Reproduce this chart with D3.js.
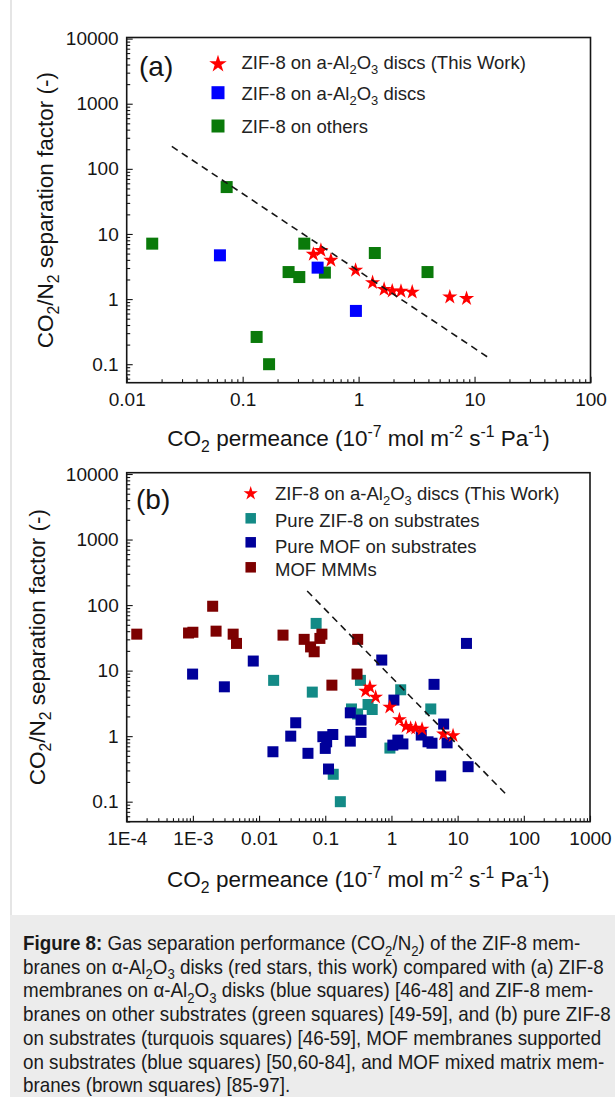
<!DOCTYPE html>
<html>
<head>
<meta charset="utf-8">
<script src="https://cdn.jsdelivr.net/npm/d3@7"></script>
<style>
  body { margin: 0; background: #fff; }
  svg { display: block; }
</style>
</head>
<body>
<svg id="fig" width="615" height="1097"></svg>
<script>
// ---------- data: CO2 permeance (1e-7 mol m-2 s-1 Pa-1) and CO2/N2 separation factor ----------
// ZIF-8 on α-Al2O3 discs, this work (red stars)
const thisWorkPerm = [0.407, 0.473, 0.577, 0.942, 1.32, 1.66, 1.95, 2.32, 2.9, 6.12, 8.53];
const thisWorkSel  = [4.87, 5.6, 3.94, 2.77, 1.79, 1.41, 1.33, 1.32, 1.28, 1.08, 1.02];

// ZIF-8 on α-Al2O3 discs, literature [46-48]
const aluminaPerm = [0.0637, 0.443, 0.948];
const aluminaSel  = [4.7, 3.04, 0.658];

// ZIF-8 on other substrates [49-59]
const otherPerm = [0.0166, 0.0728, 0.132, 0.169, 0.249, 0.308, 0.34, 0.512, 1.38, 3.93];
const otherSel  = [7.1, 52.5, 0.262, 0.1, 2.6, 2.18, 7.1, 2.55, 5.1, 2.6];

// Pure ZIF-8 on substrates [46-59] = both groups above
const pureZifPerm = aluminaPerm.concat(otherPerm);
const pureZifSel  = aluminaSel.concat(otherSel);

// Pure MOF membranes on substrates [50,60-84]
const mofPerm = [9.9e-4, 2.99e-3, 8.17e-3, 0.0162, 0.0301, 0.0358, 0.0548, 0.092, 0.1, 0.105,
                 0.112, 0.13, 0.239, 0.239, 0.347, 0.347, 0.714, 1.05, 1.09, 1.25,
                 1.49, 2.82, 3.57, 4.1, 4.4, 5.55, 6.15, 6.93, 13.6, 14.4];
const mofSel  = [8.85, 5.66, 14, 0.578, 1.0, 1.6, 0.547, 0.98, 0.65, 0.82,
                 0.315, 1.06, 0.84, 2.27, 1.76, 1.14, 14.5, 0.73, 3.55, 0.87,
                 0.76, 1.04, 0.82, 0.78, 6.17, 0.247, 1.53, 0.79, 26, 0.342];

// MOF mixed matrix membranes [85-97]
const mmmPerm = [1.42e-4, 8.6e-4, 1.0e-3, 1.99e-3, 2.24e-3, 4.06e-3, 4.56e-3, 0.023,
                 0.048, 0.06, 0.068, 0.083, 0.089, 0.126, 0.302, 0.309];
const mmmSel  = [36, 37.5, 38.5, 96, 40, 36, 26, 34.8,
                 30, 23, 19.4, 31, 36, 6.0, 8.85, 30];

// dashed trade-off lines
const trendAPerm = [0.0245, 13.3];
const trendASel  = [221, 0.125];
const trendBPerm = [0.0533, 58.5];
const trendBSel  = [164, 0.119];

// tick values and labels
const xTicksA = [0.01, 0.1, 1, 10, 100];
const xLabelsA = ["0.01", "0.1", "1", "10", "100"];
const xTicksB = [1e-4, 1e-3, 0.01, 0.1, 1, 10, 100, 1000];
const xLabelsB = ["1E-4", "1E-3", "0.01", "0.1", "1", "10", "100", "1000"];
const yTicks = [0.1, 1, 10, 100, 1000, 10000];
const yLabels = ["0.1", "1", "10", "100", "1000", "10000"];

// legend entries
const legendA = ["ZIF-8 on a-Al|2|O|3| discs (This Work)", "ZIF-8 on a-Al|2|O|3| discs", "ZIF-8 on others"];
const legendB = ["ZIF-8 on a-Al|2|O|3| discs (This Work)", "Pure ZIF-8 on substrates", "Pure MOF on substrates", "MOF MMMs"];

// ---------- styling ----------
const FONT = "'Liberation Sans', Arial, Helvetica, sans-serif";
const INK = "#151515";
const C = {
  red: "#ff0000", blue: "#0000ff", green: "#0a7a0a",
  teal: "#138a86", navy: "#00009a", maroon: "#7d0000"
};

const svg = d3.select("#fig");

// figure container edge and caption panel
svg.append("line").attr("x1", 11).attr("x2", 11).attr("y1", 0).attr("y2", 915)
  .attr("stroke", "#d4d4d4").attr("stroke-width", 1.2);
svg.append("rect").attr("x", 10).attr("y", 915).attr("width", 605).attr("height", 182)
  .attr("fill", "#ececec");

// rich text helper: parts are [text, "sub"|"sup"|null, bold]
function rich(textSel, parts, size) {
  let shift = 0;
  parts.forEach(([t, k, bold]) => {
    const target = k === "sub" ? size * 0.28 : k === "sup" ? -size * 0.4 : 0;
    const ts = textSel.append("tspan").text(t).attr("dy", target - shift);
    if (k) ts.attr("font-size", size * 0.7);
    if (bold) ts.attr("font-weight", "bold");
    shift = target;
  });
}
// "a|2|b" -> alternating normal/sub pieces
function subParts(str) {
  return str.split("|").filter(s => s.length).map((s, i) => [s, i % 2 ? "sub" : null]);
}

function minorTicks(domain) {
  const out = [];
  const lo = Math.floor(Math.log10(domain[0])), hi = Math.ceil(Math.log10(domain[1]));
  for (let e = lo; e < hi; e++) {
    for (let k = 2; k <= 9; k++) {
      const v = k * Math.pow(10, e);
      if (v >= domain[0] && v <= domain[1]) out.push(v);
    }
  }
  return out;
}

function star(size) { return d3.symbol().type(d3.symbolStar).size(size)(); }

function panel(cfg) {
  const x = d3.scaleLog().domain(cfg.xDomain).range([cfg.left, cfg.right]);
  const y = d3.scaleLog().domain(cfg.yDomain).range([cfg.bottom, cfg.top]);
  const g = svg.append("g");

  // axes: inward major + minor ticks
  const gx = g.append("g").attr("transform", `translate(0,${cfg.bottom})`)
    .call(d3.axisBottom(x).tickValues(cfg.xTicks).tickFormat((d, i) => cfg.xLabels[i])
      .tickSizeInner(-6).tickSizeOuter(0).tickPadding(10));
  const gxm = g.append("g").attr("transform", `translate(0,${cfg.bottom})`)
    .call(d3.axisBottom(x).tickValues(minorTicks(cfg.xDomain)).tickFormat("")
      .tickSizeInner(-3.5).tickSizeOuter(0));
  const gy = g.append("g").attr("transform", `translate(${cfg.left},0)`)
    .call(d3.axisLeft(y).tickValues(yTicks).tickFormat((d, i) => yLabels[i])
      .tickSizeInner(-6).tickSizeOuter(0).tickPadding(8));
  const gym = g.append("g").attr("transform", `translate(${cfg.left},0)`)
    .call(d3.axisLeft(y).tickValues(minorTicks(cfg.yDomain)).tickFormat("")
      .tickSizeInner(-3.5).tickSizeOuter(0));
  [gx, gxm, gy, gym].forEach(a => {
    a.select(".domain").remove();
    a.selectAll("line").attr("stroke", INK).attr("stroke-width", 1.1);
    a.selectAll("text").attr("font-family", FONT).attr("font-size", 19).attr("fill", INK);
  });

  // frame
  g.append("rect").attr("x", cfg.left).attr("y", cfg.top)
    .attr("width", cfg.right - cfg.left).attr("height", cfg.bottom - cfg.top)
    .attr("fill", "none").attr("stroke", INK).attr("stroke-width", 1.6);

  // series
  cfg.series.forEach(s => {
    const pts = s.perm.map((p, i) => [x(p), y(s.sel[i])]);
    if (s.shape === "star") {
      g.append("g").selectAll("path").data(pts).join("path")
        .attr("d", star(s.size)).attr("transform", d => `translate(${d[0]},${d[1]})`)
        .attr("fill", s.color);
    } else {
      g.append("g").selectAll("rect").data(pts).join("rect")
        .attr("x", d => d[0] - s.size / 2).attr("y", d => d[1] - s.size / 2)
        .attr("width", s.size).attr("height", s.size).attr("fill", s.color);
    }
  });

  // trade-off line
  const line = d3.line().x(d => x(d[0])).y(d => y(d[1]));
  g.append("path").datum(cfg.trendPerm.map((p, i) => [p, cfg.trendSel[i]]))
    .attr("d", line).attr("fill", "none").attr("stroke", INK)
    .attr("stroke-width", 1.6).attr("stroke-dasharray", "7,5");

  // panel tag
  g.append("text").attr("x", cfg.tag.x).attr("y", cfg.tag.y).text(cfg.tag.text)
    .attr("font-family", FONT).attr("font-size", 28).attr("fill", INK);

  // legend
  cfg.legend.items.forEach((label, i) => {
    const my = cfg.legend.markerY[i];
    const s = cfg.legend.symbols[i];
    if (s.shape === "star") {
      g.append("path").attr("d", star(s.size)).attr("fill", s.color)
        .attr("transform", `translate(${cfg.legend.markerX},${my})`);
    } else {
      g.append("rect").attr("x", cfg.legend.markerX - s.size / 2).attr("y", my - s.size / 2)
        .attr("width", s.size).attr("height", s.size).attr("fill", s.color);
    }
    const t = g.append("text").attr("x", cfg.legend.textX).attr("y", cfg.legend.textY[i])
      .attr("font-family", FONT).attr("font-size", 18.5).attr("fill", "#222");
    rich(t, subParts(label), 18.5);
  });

  // axis titles
  const xt = g.append("text").attr("x", (cfg.left + cfg.right) / 2).attr("y", cfg.xTitleY)
    .attr("text-anchor", "middle").attr("font-family", FONT).attr("font-size", 22.5).attr("fill", INK);
  rich(xt, [["CO"], ["2", "sub"], [" permeance (10"], ["-7", "sup"], [" mol m"], ["-2", "sup"],
            [" s"], ["-1", "sup"], [" Pa"], ["-1", "sup"], [")"]], 22.5);
  const yt = g.append("text")
    .attr("transform", `translate(${cfg.yTitleX},${(cfg.top + cfg.bottom) / 2}) rotate(-90)`)
    .attr("text-anchor", "middle").attr("font-family", FONT).attr("font-size", 22.5).attr("fill", INK);
  rich(yt, [["CO"], ["2", "sub"], ["/N"], ["2", "sub"], [" separation factor (-)"]], 22.5);
}

// panel (a)
panel({
  left: 126.7, right: 590.5, top: 37.5, bottom: 382.7,
  xDomain: [0.01, 100], yDomain: [0.052, 10400],
  xTicks: xTicksA, xLabels: xLabelsA,
  xTitleY: 446, yTitleX: 53,
  tag: { text: "(a)", x: 139, y: 76 },
  trendPerm: trendAPerm, trendSel: trendASel,
  series: [
    { perm: otherPerm, sel: otherSel, color: C.green, shape: "square", size: 12 },
    { perm: aluminaPerm, sel: aluminaSel, color: C.blue, shape: "square", size: 12 },
    { perm: thisWorkPerm, sel: thisWorkSel, color: C.red, shape: "star", size: 72 }
  ],
  legend: {
    items: legendA, markerX: 218, textX: 241.5,
    markerY: [64, 92.7, 126], textY: [68.5, 100, 133],
    symbols: [{ shape: "star", color: C.red, size: 95 },
              { shape: "square", color: C.blue, size: 13 },
              { shape: "square", color: C.green, size: 13 }]
  }
});

// panel (b)
panel({
  left: 126.7, right: 590, top: 472.7, bottom: 821.7,
  xDomain: [1e-4, 1000], yDomain: [0.0495, 10470],
  xTicks: xTicksB, xLabels: xLabelsB,
  xTitleY: 887, yTitleX: 45,
  tag: { text: "(b)", x: 136, y: 509 },
  trendPerm: trendBPerm, trendSel: trendBSel,
  series: [
    { perm: pureZifPerm, sel: pureZifSel, color: C.teal, shape: "square", size: 11 },
    { perm: mofPerm, sel: mofSel, color: C.navy, shape: "square", size: 11 },
    { perm: mmmPerm, sel: mmmSel, color: C.maroon, shape: "square", size: 11 },
    { perm: thisWorkPerm, sel: thisWorkSel, color: C.red, shape: "star", size: 68 }
  ],
  legend: {
    items: legendB, markerX: 250.7, textX: 275,
    markerY: [493.5, 518.3, 542.3, 567.3], textY: [500, 526.5, 552.5, 576],
    symbols: [{ shape: "star", color: C.red, size: 62 },
              { shape: "square", color: C.teal, size: 10.5 },
              { shape: "square", color: C.navy, size: 10.5 },
              { shape: "square", color: C.maroon, size: 10.5 }]
  }
});

// caption: condensed sans set by horizontally scaling regular glyphs
const capLeft = 23, capTop = 950, capLead = 23.7, capSize = 20, capWidestLine = 581;
const captionLines = [
  [["Figure 8:", null, true], [" Gas separation performance (CO"], ["2", "sub"], ["/N"], ["2", "sub"], [") of the ZIF-8 mem-"]],
  [["branes on α-Al"], ["2", "sub"], ["O"], ["3", "sub"], [" disks (red stars, this work) compared with (a) ZIF-8"]],
  [["membranes on α-Al"], ["2", "sub"], ["O"], ["3", "sub"], [" disks (blue squares) [46-48] and ZIF-8 mem-"]],
  [["branes on other substrates (green squares) [49-59], and (b) pure ZIF-8"]],
  [["on substrates (turquois squares) [46-59], MOF membranes supported"]],
  [["on substrates (blue squares) [50,60-84], and MOF mixed matrix mem-"]],
  [["branes (brown squares) [85-97]."]]
];
const capTexts = captionLines.map((parts, i) => {
  const t = svg.append("text").attr("x", 0).attr("y", 0)
    .attr("font-family", FONT).attr("font-size", capSize).attr("fill", "#1a1a1a");
  rich(t, parts, capSize);
  return t;
});
const squeeze = capWidestLine / capTexts[1].node().getComputedTextLength();
capTexts.forEach((t, i) =>
  t.attr("transform", `translate(${capLeft},${capTop + i * capLead}) scale(${squeeze},1)`));
</script>
</body>
</html>
